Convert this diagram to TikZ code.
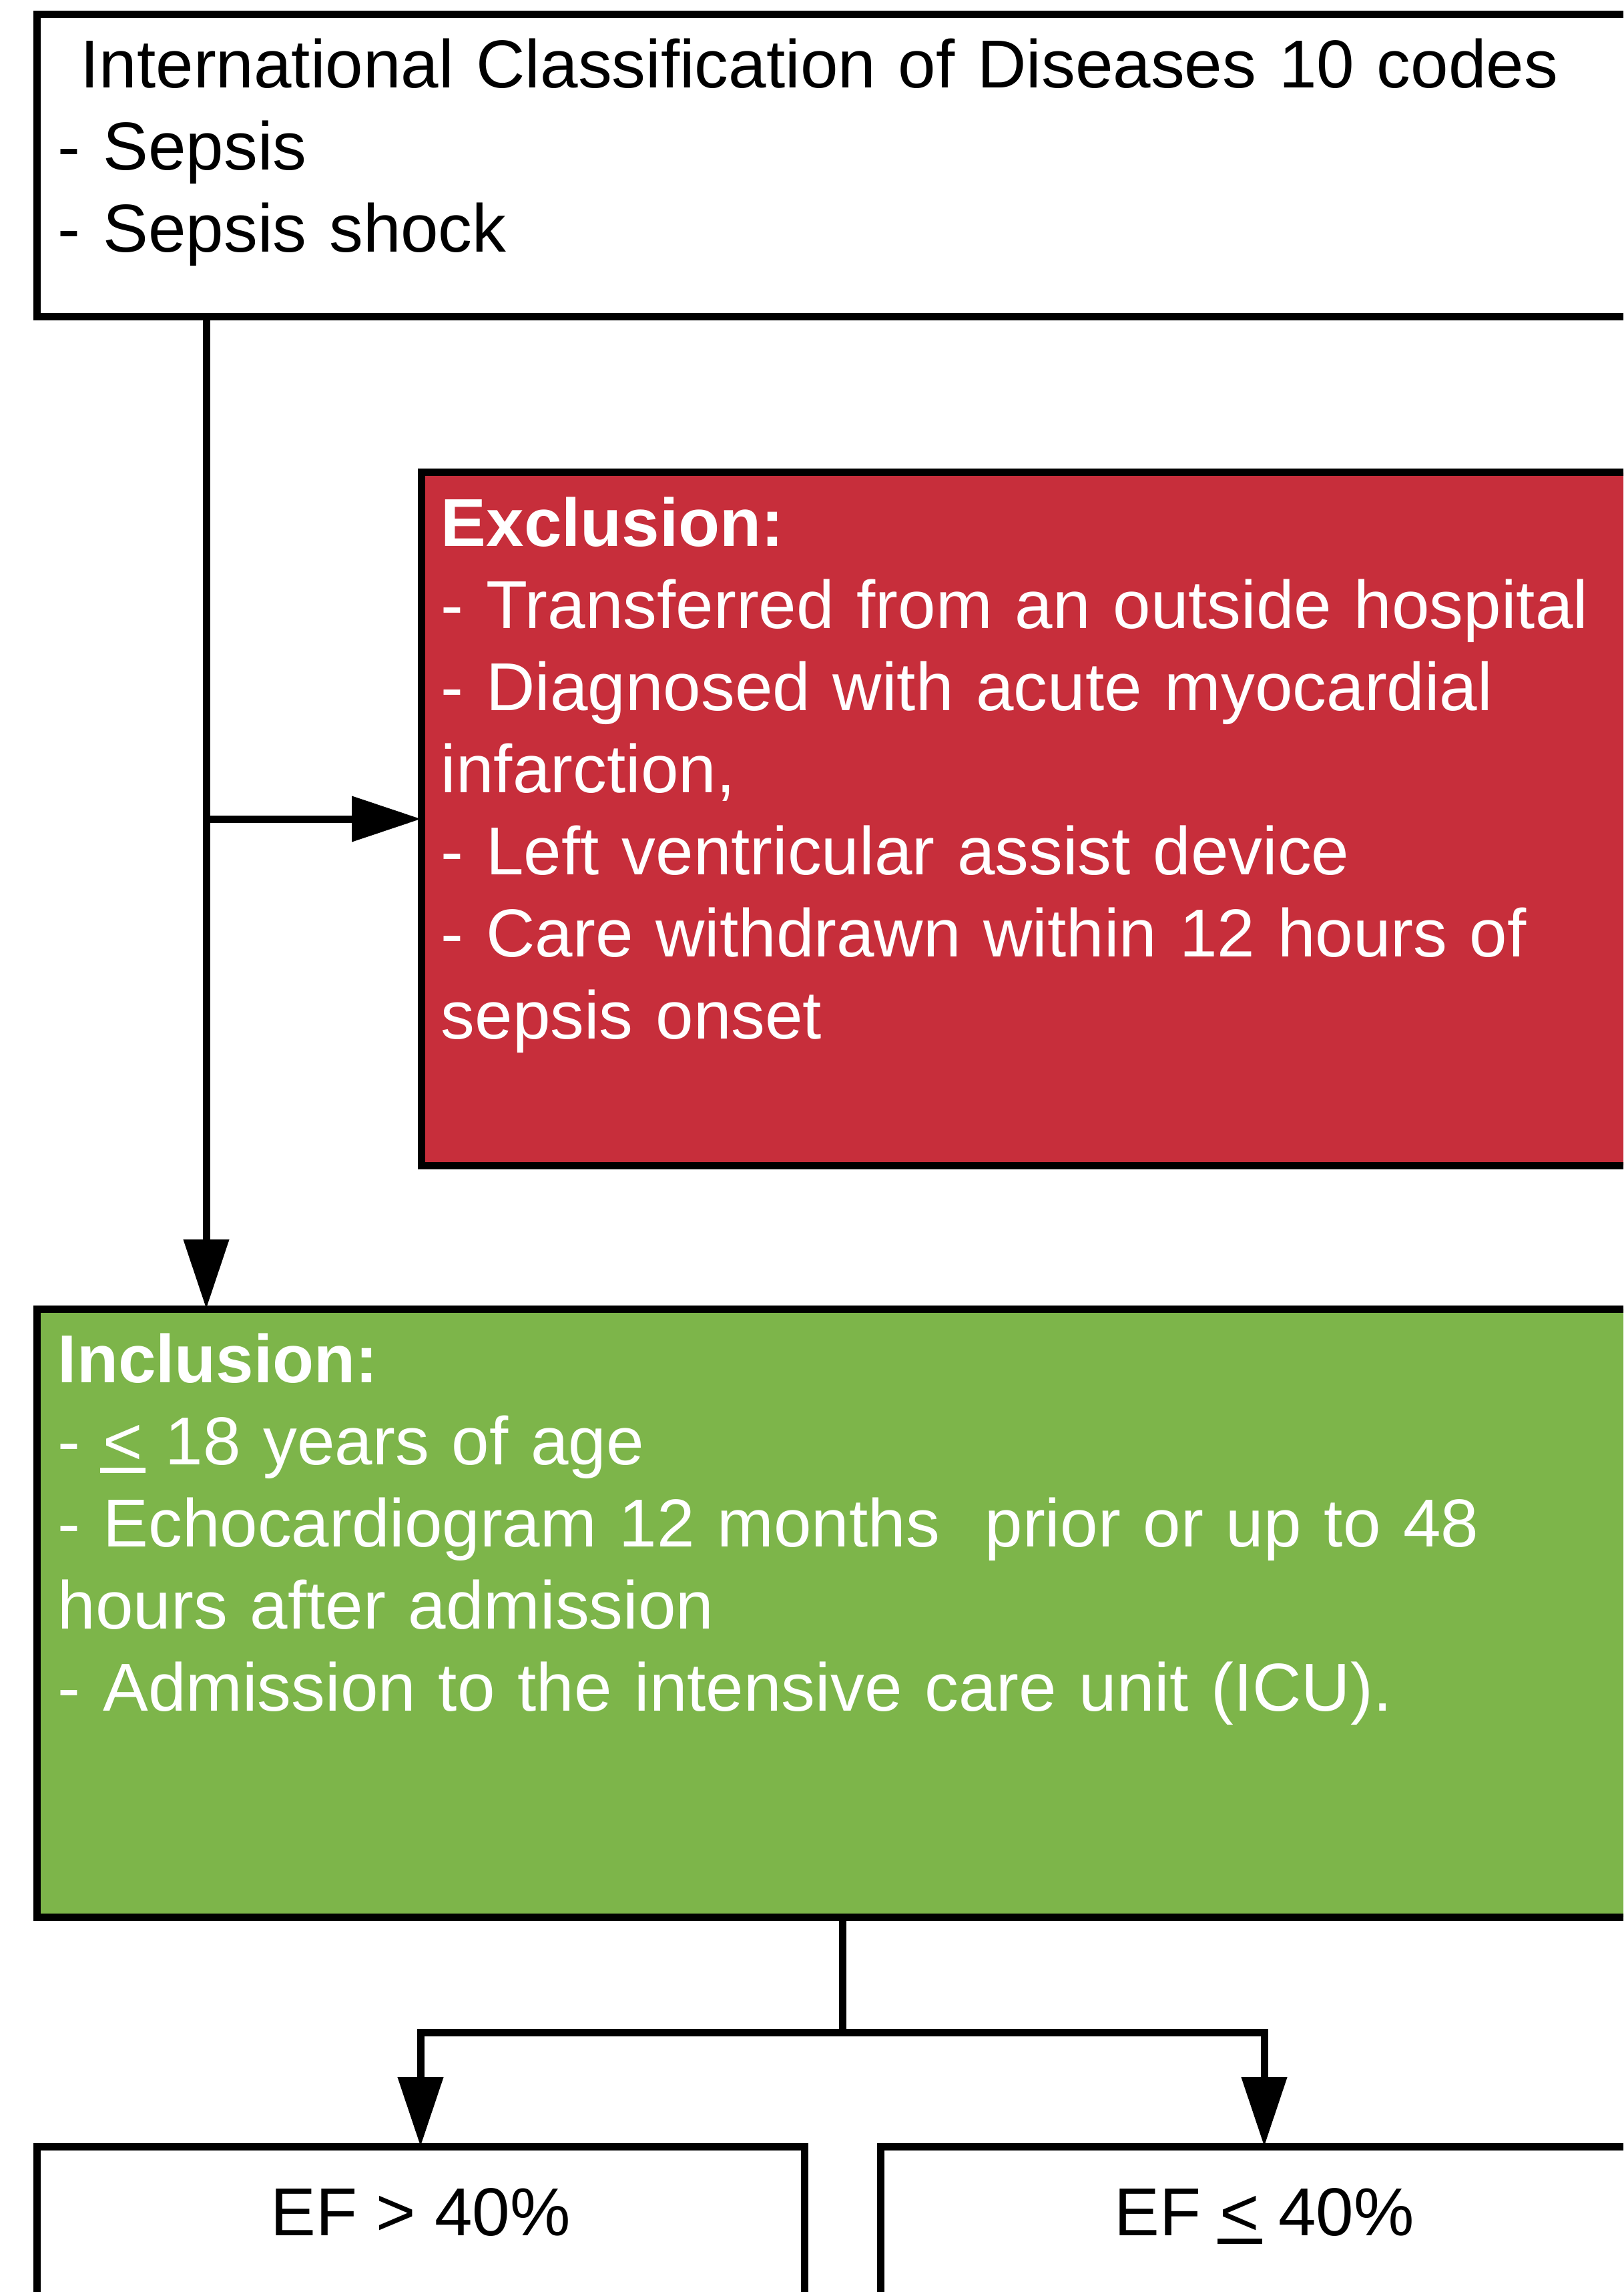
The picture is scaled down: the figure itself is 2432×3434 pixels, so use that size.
\documentclass[tikz,border=0pt]{standalone}
\usepackage{fontspec}
\setmainfont{Liberation Sans}
\usetikzlibrary{arrows.meta, positioning}
\definecolor{red1}{rgb}{0.78,0.18,0.23}
\definecolor{green1}{rgb}{0.49,0.71,0.29}
\newcommand{\ulsym}[1]{\setbox0\hbox{#1}\rlap{\kern-1pt\rule[-3.25pt]{\dimexpr\wd0+2pt\relax}{2pt}}\box0\relax}

\begin{document}
\begin{tikzpicture}[x=0.25pt, y=-0.25pt]
    \tikzstyle{box} = [draw=black, line width=2.75pt, rectangle, outer sep=0pt, inner sep=0pt]
    \tikzstyle{txt} = [inner sep=0pt, anchor=base west, text width=600pt, align=left, font=\fontsize{25.4}{30.75}\selectfont]
    \tikzstyle{eftxt} = [inner sep=0pt, anchor=base, font=\fontsize{25.4}{30.75}\selectfont]
    \tikzstyle{conn} = [line width=2.75pt]
    \tikzstyle{arr} = [conn, -{Triangle[length=26pt, width=16.5pt]}]

    \useasboundingbox (0,0) rectangle (2432,3434);
    \clip (0,0) rectangle (2432,3434);

    % boxes
    \node[box, minimum width=603.5pt, minimum height=113.25pt] (icd) at (1262,248.5) {};
    \node[box, fill=red1, minimum width=459.5pt, minimum height=259.5pt] (exc) at (1550,1227) {};
    \node[box, fill=green1, minimum width=603.5pt, minimum height=227.75pt] (inc) at (1262,2416.5) {};
    \node[box, minimum width=287.5pt, minimum height=150pt] (efhi) at (630,3516) {};
    \node[box, minimum width=287.5pt, minimum height=150pt] (eflo) at (1894,3516) {};

    % texts
    \node[txt] (icdtxt) at ([shift={(31,110)}]icd.north west)
        {~International Classification of Diseases 10 codes\\
         - Sepsis\\
         - Sepsis shock};
    \node[txt, text=white] (exctxt) at ([shift={(29,110)}]exc.north west)
        {\textbf{Exclusion:}\\
         - Transferred from an outside hospital\\
         - Diagnosed with acute myocardial\\
         infarction,\\
         - Left ventricular assist device\\
         - Care withdrawn within 12 hours of\\
         sepsis onset};
    \node[txt, text=white] (inctxt) at ([shift={(31,110)}]inc.north west)
        {\textbf{Inclusion:}\\
         - \ulsym{<} 18 years of age\\
         - Echocardiogram 12 months\ \ prior or up to 48\\
         hours after admission\\
         - Admission to the intensive care unit (ICU).};
    \node[eftxt] (efhitxt) at ([shift={(0,133)}]efhi.north) {EF > 40\%};
    \node[eftxt] (eflotxt) at ([shift={(0,133)}]eflo.north) {EF \ulsym{<} 40\%};

    % connectors
    \coordinate (split) at (309,1227);
    \coordinate (fork)  at (1262,3045);
    \draw[arr] (icd.south -| split) -- (inc.north -| split);
    \draw[arr] (split) -- (exc.west);
    \draw[conn] (inc.south) -- (fork);
    \draw[arr] (fork) -| (efhi.north);
    \draw[arr] (fork) -| (eflo.north);

\end{tikzpicture}
\end{document}
